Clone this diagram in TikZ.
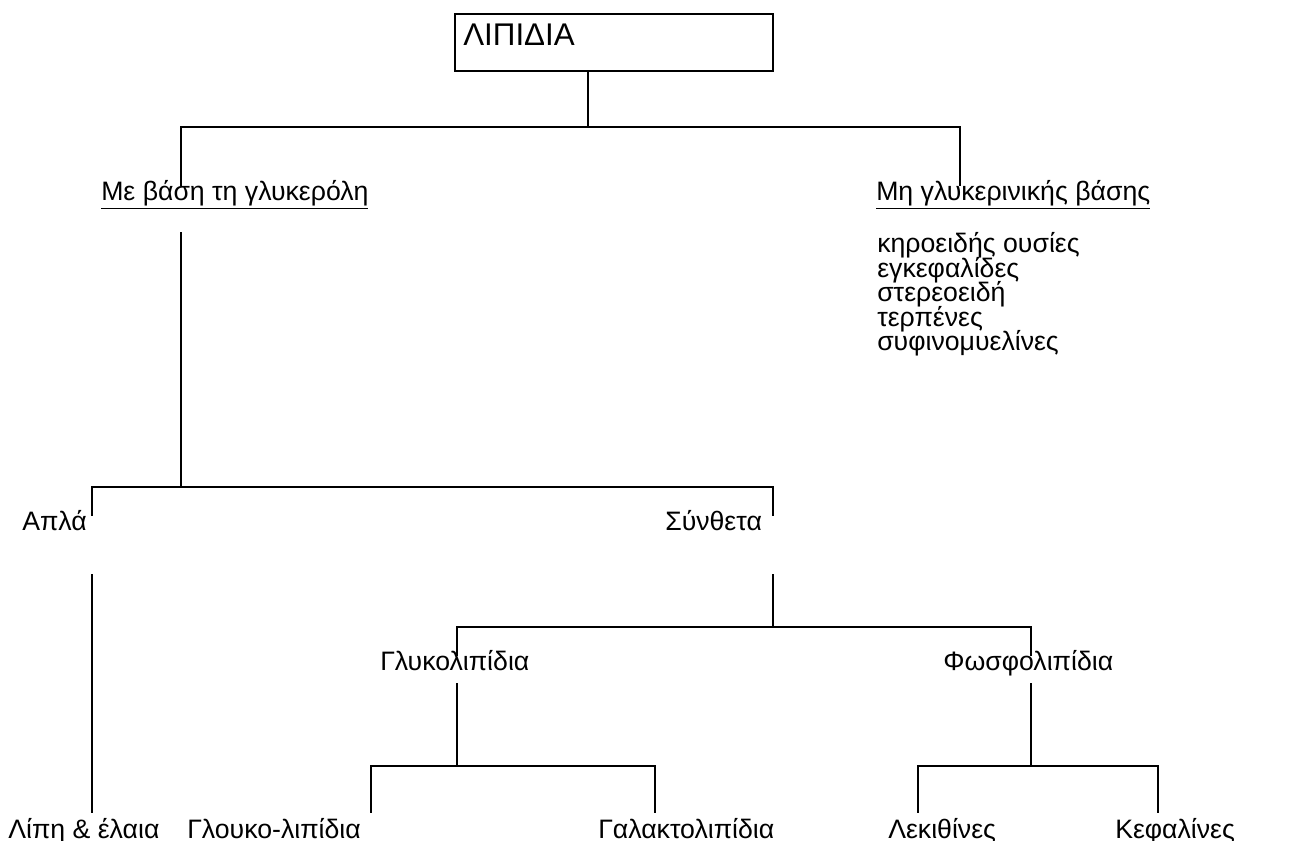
\documentclass[tikz,border=0pt]{standalone}
\usepackage{fontspec}
\setmainfont{Liberation Sans}
\begin{document}
\begin{tikzpicture}[x=0.75pt,y=-0.75pt,
  conn/.style={line width=1.5pt,line cap=rect},
  lbl/.style={anchor=base west,inner sep=0pt,font=\fontsize{20}{24}\selectfont},
  item/.style={lbl,text height=0.8em,text depth=0.1em}]
\useasboundingbox (0,0) rectangle (1307,841);

% root box with its title
\node[draw,line width=1.5pt,minimum width=318*0.75pt,minimum height=57*0.75pt,inner sep=0pt] (rootbox) at (614,42.5) {};
\node[anchor=base west,inner sep=0pt,font=\fontsize{23.5}{27}\selectfont] (root) at (463,46) {ΛΙΠΙΔΙΑ};

% first level
\node[lbl] (gly) at (101,201) {\underline{Με βάση τη γλυκερόλη}};
\node[lbl] (non) at (876,201) {\underline{Μη γλυκερινικής βάσης}};
\node[item] (i1) at (877,253) {κηροειδής ουσίες};
\node[item] (i2) at (877,277.5) {εγκεφαλίδες};
\node[item] (i3) at (877,302) {στερεοειδή};
\node[item] (i4) at (877,326.5) {τερπένες};
\node[item] (i5) at (877,351) {συφινομυελίνες};

% second level
\node[lbl] (apla) at (22,530) {Απλά};
\node[lbl] (synth) at (665,530) {Σύνθετα};

% third level
\node[lbl] (glyk) at (380,670) {Γλυκολιπίδια};
\node[lbl] (phos) at (943,670) {Φωσφολιπίδια};

% leaves
\node[lbl] (lipi) at (8,838) {Λίπη \& έλαια};
\node[lbl] (gluc) at (187,838) {Γλουκο-λιπίδια};
\node[lbl] (gala) at (598,838) {Γαλακτολιπίδια};
\node[lbl] (leki) at (888,838) {Λεκιθίνες};
\node[lbl] (kefa) at (1115,838) {Κεφαλίνες};

% connector end points
\coordinate (r0) at (588,71);
\coordinate (r1) at (588,127);
\coordinate (g0) at (181,185);
\coordinate (n0) at (960,185);
\coordinate (g1) at (181,233);
\coordinate (g2) at (181,487);
\coordinate (a0) at (92,515);
\coordinate (s0) at (773,515);
\coordinate (a1) at (92,575);
\coordinate (a2) at (92,812);
\coordinate (s1) at (773,575);
\coordinate (s2) at (773,627);
\coordinate (k0) at (457,655);
\coordinate (f0) at (1031,655);
\coordinate (k1) at (457,684);
\coordinate (k2) at (457,766);
\coordinate (f1) at (1031,684);
\coordinate (f2) at (1031,766);
\coordinate (c0) at (371,812);
\coordinate (c1) at (655,812);
\coordinate (e0) at (918,812);
\coordinate (e1) at (1158,812);

% connectors
\draw[conn] (r0) -- (r1);
\draw[conn] (g0) -- (g0 |- r1) -- (n0 |- r1) -- (n0);
\draw[conn] (g1) -- (g2);
\draw[conn] (a0) -- (a0 |- g2) -- (s0 |- g2) -- (s0);
\draw[conn] (a1) -- (a2);
\draw[conn] (s1) -- (s2);
\draw[conn] (k0) -- (k0 |- s2) -- (f0 |- s2) -- (f0);
\draw[conn] (k1) -- (k2);
\draw[conn] (c0) -- (c0 |- k2) -- (c1 |- k2) -- (c1);
\draw[conn] (f1) -- (f2);
\draw[conn] (e0) -- (e0 |- f2) -- (e1 |- f2) -- (e1);
\end{tikzpicture}
\end{document}
